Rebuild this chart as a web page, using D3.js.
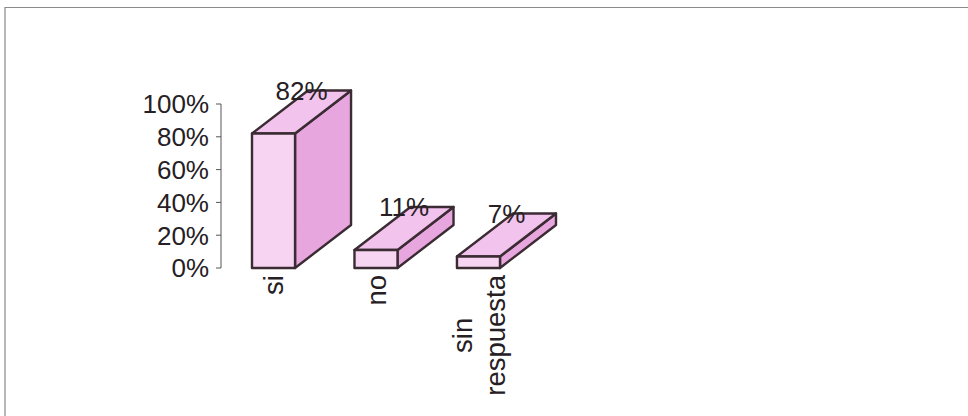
<!DOCTYPE html>
<html>
<head>
<meta charset="utf-8">
<script src="https://cdn.jsdelivr.net/npm/d3@7"></script>
<style>
  html, body { margin: 0; padding: 0; background: #fff; }
  svg { display: block; }
  text { font-family: "Liberation Sans", Arial, sans-serif; fill: #262024; }
</style>
</head>
<body>
<svg id="chart" width="968" height="416"></svg>
<script>
const categories = ["si", "no", "sin respuesta"];
const values = [82, 11, 7];
const valueLabels = ["82%", "11%", "7%"];
const yTicks = [0, 20, 40, 60, 80, 100];
const yTickLabels = ["0%", "20%", "40%", "60%", "80%", "100%"];

const W = 968, H = 416;
const svg = d3.select("#chart");

// frame (scanned page border)
svg.append("path")
  .attr("d", `M5,${H} L5,7.5 L${W},7.5`)
  .attr("fill", "none").attr("stroke", "#8a8a8a").attr("stroke-width", 1.2);

const y = d3.scaleLinear().domain([0, 100]).range([268, 104]);
const x = d3.scaleBand().domain(categories).range([252, 500]).paddingInner(0.58).paddingOuter(0);

const depthX = 56, depthY = -43;
const colFront = "#f8d4f3", colTop = "#f2c3ec", colSide = "#e8a6df", colEdge = "#3b2b33";

// y axis
const axisX = 221;
const ax = svg.append("g");
ax.append("line").attr("x1", axisX).attr("x2", axisX).attr("y1", y(0)).attr("y2", y(100))
  .attr("stroke", "#555").attr("stroke-width", 1);
yTicks.forEach((t, i) => {
  ax.append("line").attr("x1", axisX - 5).attr("x2", axisX).attr("y1", y(t)).attr("y2", y(t))
    .attr("stroke", "#555").attr("stroke-width", 1);
  ax.append("text").attr("x", 209).attr("y", y(t)).attr("dy", "0.36em")
    .attr("text-anchor", "end").attr("font-size", 26).text(yTickLabels[i]);
});

// 3D bars
const bars = svg.append("g");
categories.forEach((c, i) => {
  const x0 = x(c), x1 = x(c) + x.bandwidth();
  const yt = y(values[i]), yb = y(0);
  const g = bars.append("g").attr("stroke", colEdge).attr("stroke-width", 2.4).attr("stroke-linejoin", "round");
  // side face
  g.append("path").attr("fill", colSide)
    .attr("d", `M${x1},${yb} L${x1 + depthX},${yb + depthY} L${x1 + depthX},${yt + depthY} L${x1},${yt} Z`);
  // top face
  g.append("path").attr("fill", colTop)
    .attr("d", `M${x0},${yt} L${x0 + depthX},${yt + depthY} L${x1 + depthX},${yt + depthY} L${x1},${yt} Z`);
  // front face
  g.append("path").attr("fill", colFront)
    .attr("d", `M${x0},${yb} L${x0},${yt} L${x1},${yt} L${x1},${yb} Z`);
  // value label
  svg.append("text")
    .attr("x", (x0 + x1) / 2 + depthX / 2)
    .attr("y", yt + depthY + 9)
    .attr("text-anchor", "middle").attr("font-size", 26)
    .text(valueLabels[i]);
});

// category labels (rotated, wrapped, centred)
const lh = 33;
categories.forEach((c) => {
  const cx = x(c) + x.bandwidth() / 2;
  const lines = c.split(" ");
  const g = svg.append("g").attr("transform", `translate(${cx},275) rotate(-90)`);
  const texts = lines.map((ln, j) => g.append("text").attr("font-size", 27.5)
    .attr("text-anchor", "middle")
    .attr("y", (j - (lines.length - 1) / 2) * lh).attr("dy", "0.36em").text(ln));
  const maxLen = d3.max(texts, t => t.node().getComputedTextLength());
  texts.forEach(t => t.attr("x", -maxLen / 2));
});
</script>
</body>
</html>
